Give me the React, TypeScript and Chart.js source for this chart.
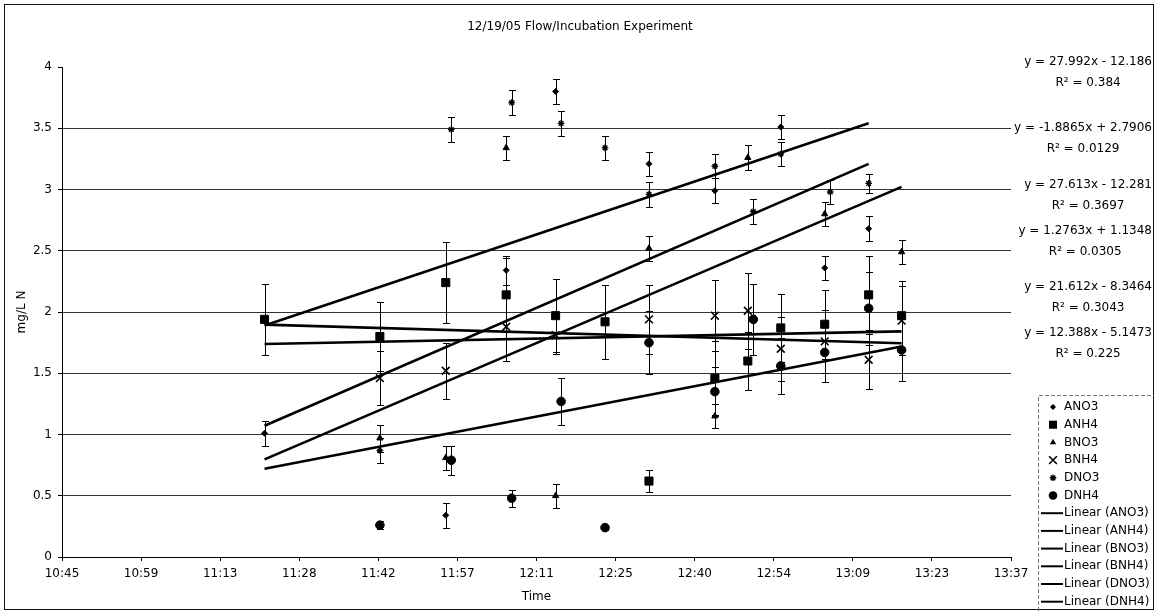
import React, { useEffect, useRef } from "react";
import { Chart, registerables } from "chart.js";

Chart.register(...registerables);

// ---------------- DATA ----------------
const titleText = "12/19/05 Flow/Incubation Experiment";
const xAxisTitle = "Time";
const yAxisTitle = "mg/L N";
const seriesNames = ["ANO3", "ANH4", "BNO3", "BNH4", "DNO3", "DNH4"];

const ano3Times = ["11:22", "11:43", "11:55", "12:06", "12:15", "12:32", "12:44", "12:56", "13:04", "13:12"];
const ano3Values = [1.01, 0.87, 0.34, 2.34, 3.8, 3.21, 2.99, 3.51, 2.36, 2.68];
const ano3Errors = [0.1, 0.1, 0.1, 0.12, 0.1, 0.1, 0.1, 0.1, 0.1, 0.1];

const anh4Times = ["11:22", "11:43", "11:55", "12:06", "12:15", "12:24", "12:32", "12:44", "12:50", "12:56", "13:04", "13:12", "13:18"];
const anh4Values = [1.94, 1.8, 2.24, 2.14, 1.97, 1.92, 0.62, 1.46, 1.6, 1.87, 1.9, 2.14, 1.97];
const anh4Errors = [0.29, 0.28, 0.33, 0.3, 0.3, 0.3, 0.09, 0.3, 0.24, 0.28, 0.28, 0.32, 0.28];

const bno3Times = ["11:43", "11:55", "12:06", "12:15", "12:32", "12:44", "12:50", "13:04", "13:18"];
const bno3Values = [0.97, 0.81, 3.34, 0.5, 2.52, 1.15, 3.26, 2.8, 2.49];
const bno3Errors = [0.11, 0.1, 0.1, 0.1, 0.1, 0.1, 0.1, 0.1, 0.1];

const bnh4Times = ["11:43", "11:55", "12:06", "12:15", "12:32", "12:44", "12:50", "12:56", "13:04", "13:12", "13:18"];
const bnh4Values = [1.46, 1.52, 1.88, 1.81, 1.94, 1.97, 2.01, 1.7, 1.76, 1.61, 1.93];
const bnh4Errors = [0.22, 0.23, 0.28, 0.15, 0.28, 0.29, 0.31, 0.26, 0.26, 0.24, 0.28];

const dno3Times = ["11:56", "12:07", "12:16", "12:24", "12:32", "12:44", "12:51", "12:56", "13:05", "13:12"];
const dno3Values = [3.49, 3.71, 3.54, 3.34, 2.96, 3.19, 2.82, 3.29, 2.98, 3.05];
const dno3Errors = [0.1, 0.1, 0.1, 0.1, 0.1, 0.1, 0.1, 0.1, 0.1, 0.08];

const dnh4Times = ["11:43", "11:56", "12:07", "12:16", "12:24", "12:32", "12:44", "12:51", "12:56", "13:04", "13:12", "13:18"];
const dnh4Values = [0.26, 0.79, 0.48, 1.27, 0.24, 1.75, 1.35, 1.94, 1.56, 1.67, 2.03, 1.69];
const dnh4Errors = [0.03, 0.12, 0.07, 0.19, 0.02, 0.26, 0.2, 0.29, 0.23, 0.24, 0.3, 0.25];

// Excel linear trendlines (x in days)
const trendSlopes = [27.992, -1.8865, 27.613, 1.2763, 21.612, 12.388];
const trendIntercepts = [-12.186, 2.7906, -12.281, 1.1348, -8.3464, -5.1473];
const trendR2 = ["0.384", "0.0129", "0.3697", "0.0305", "0.3043", "0.225"];
const trendStart = ["11:22", "11:22", "11:22", "11:22", "11:22", "11:22"];
const trendEnd = ["13:12", "13:18", "13:18", "13:18", "13:12", "13:18"];

const xTickValues = [0.448, 0.458, 0.468, 0.478, 0.488, 0.498, 0.508, 0.518, 0.528, 0.538, 0.548, 0.558, 0.568];
const yMin = 0;
const yMax = 4;
const yStep = 0.5;

// ---------------- STYLE ----------------
const FONT = "'DejaVu Sans', Verdana, sans-serif";
const pointStyles = ["rectRot", "rect", "triangle", "crossRot", "star", "circle"];
const pointRadii = [3, 5.7, 3.6, 5.5, 3.3, 4.3];
const pointBorders = [1, 1, 1, 1.6, 1.4, 1];
// equation label positions (right aligned at eqRight)
const eqRight = 1152;
const eqY = [62, 128, 185, 231, 287, 333];
const r2Offset = 21;

function toDay(t: string): number {
  const [h, m] = t.split(":").map(Number);
  return (h * 60 + m) / 1440;
}
function fmtTime(v: number): string {
  const mins = Math.floor(v * 1440 + 1e-6);
  const h = Math.floor(mins / 60);
  const m = mins % 60;
  return `${h}:${m < 10 ? "0" : ""}${m}`;
}
function fmtEq(m: number, b: number): string {
  return `y = ${m}x ${b < 0 ? "-" : "+"} ${Math.abs(b)}`;
}

const allTimes = [ano3Times, anh4Times, bno3Times, bnh4Times, dno3Times, dnh4Times];
const allValues = [ano3Values, anh4Values, bno3Values, bnh4Values, dno3Values, dnh4Values];
const allErrors = [ano3Errors, anh4Errors, bno3Errors, bnh4Errors, dno3Errors, dnh4Errors];

function drawMarker(ctx: CanvasRenderingContext2D, style: string, x: number, y: number, r: number, bw: number) {
  ctx.save();
  ctx.fillStyle = "#000";
  ctx.strokeStyle = "#000";
  ctx.lineWidth = bw;
  ctx.beginPath();
  if (style === "rectRot") {
    ctx.moveTo(x, y - r); ctx.lineTo(x + r, y); ctx.lineTo(x, y + r); ctx.lineTo(x - r, y); ctx.closePath();
    ctx.fill();
  } else if (style === "rect") {
    const s = r * Math.SQRT1_2;
    ctx.rect(x - s, y - s, 2 * s, 2 * s); ctx.fill();
  } else if (style === "triangle") {
    ctx.moveTo(x, y - r); ctx.lineTo(x + r * 0.87, y + r * 0.5); ctx.lineTo(x - r * 0.87, y + r * 0.5); ctx.closePath();
    ctx.fill();
  } else if (style === "crossRot") {
    const s = r * Math.SQRT1_2;
    ctx.moveTo(x - s, y - s); ctx.lineTo(x + s, y + s);
    ctx.moveTo(x + s, y - s); ctx.lineTo(x - s, y + s); ctx.stroke();
  } else if (style === "star") {
    const s = r * Math.SQRT1_2;
    ctx.moveTo(x - s, y - s); ctx.lineTo(x + s, y + s);
    ctx.moveTo(x + s, y - s); ctx.lineTo(x - s, y + s);
    ctx.moveTo(x, y - r); ctx.lineTo(x, y + r);
    ctx.moveTo(x - r, y); ctx.lineTo(x + r, y); ctx.stroke();
  } else {
    ctx.arc(x, y, r, 0, Math.PI * 2); ctx.fill();
  }
  ctx.restore();
}

const frameAndTextPlugin = {
  id: "frameAndText",
  beforeDraw(chart: any) {
    const { ctx, width, height } = chart;
    ctx.save();
    ctx.fillStyle = "#fff";
    ctx.fillRect(0, 0, width, height);
    ctx.restore();
  },
  afterDatasetsDraw(chart: any) {
    const { ctx } = chart;
    const xs = chart.scales.x;
    const ys = chart.scales.y;
    ctx.save();
    ctx.strokeStyle = "#000";
    ctx.lineWidth = 1;
    chart.data.datasets.forEach((ds: any) => {
      if (!ds.errorBars) return;
      ds.data.forEach((p: any, j: number) => {
        const e = ds.errorBars[j];
        const px = Math.round(xs.getPixelForValue(p.x)) + 0.5;
        const y1 = Math.round(ys.getPixelForValue(p.y + e)) + 0.5;
        const y2 = Math.round(ys.getPixelForValue(p.y - e)) + 0.5;
        ctx.beginPath();
        ctx.moveTo(px, y1); ctx.lineTo(px, y2);
        ctx.moveTo(px - 3.5, y1); ctx.lineTo(px + 3.5, y1);
        ctx.moveTo(px - 3.5, y2); ctx.lineTo(px + 3.5, y2);
        ctx.stroke();
      });
    });
    ctx.restore();
  },
  afterDraw(chart: any) {
    const { ctx } = chart;
    ctx.save();
    // outer frame
    ctx.strokeStyle = "#111";
    ctx.lineWidth = 1;
    ctx.strokeRect(4.5, 4.5, 1149, 605);

    // equations
    ctx.fillStyle = "#000";
    ctx.font = `12px ${FONT}`;
    ctx.textBaseline = "middle";
    seriesNames.forEach((_, i) => {
      const eq = fmtEq(trendSlopes[i], trendIntercepts[i]);
      ctx.textAlign = "right";
      ctx.fillText(eq, eqRight, eqY[i]);
      const w = ctx.measureText(eq).width;
      const cx = eqRight - w / 2;
      ctx.textAlign = "center";
      ctx.fillText(`R² = ${trendR2[i]}`, cx, eqY[i] + r2Offset);
    });

    // legend box
    const lx = 1038.5, ly = 395.5;
    ctx.strokeStyle = "#777";
    ctx.setLineDash([4, 2]);
    ctx.beginPath();
    ctx.moveTo(lx, 611); ctx.lineTo(lx, ly); ctx.lineTo(1154, ly);
    ctx.stroke();
    ctx.setLineDash([]);

    ctx.font = `12px ${FONT}`;
    ctx.textAlign = "left";
    ctx.textBaseline = "middle";
    ctx.fillStyle = "#000";
    const rowH = 17.7;
    const y0 = 407;
    seriesNames.forEach((name, i) => {
      const y = y0 + i * rowH;
      drawMarker(ctx, pointStyles[i], 1053, y, pointRadii[i], pointBorders[i]);
      ctx.fillText(name, 1064, y);
    });
    seriesNames.forEach((name, i) => {
      const y = y0 + (i + 6) * rowH;
      ctx.strokeStyle = "#000";
      ctx.lineWidth = 2;
      ctx.beginPath();
      ctx.moveTo(1041, y); ctx.lineTo(1063, y);
      ctx.stroke();
      ctx.fillText(`Linear (${name})`, 1064, y);
    });
    ctx.restore();
  },
};

export default function App() {
  const ref = useRef<HTMLCanvasElement | null>(null);

  useEffect(() => {
    if (!ref.current) return;
    Chart.defaults.font.family = FONT;
    Chart.defaults.color = "#000";

    const scatterSets = seriesNames.map((name, i) => ({
      type: "scatter" as const,
      label: name,
      data: allTimes[i].map((t, j) => ({ x: toDay(t), y: allValues[i][j] })),
      errorBars: allErrors[i],
      showLine: false,
      pointStyle: pointStyles[i],
      pointRadius: pointRadii[i],
      pointBorderWidth: pointBorders[i],
      backgroundColor: "#000",
      borderColor: "#000",
      order: 1,
    }));

    const trendSets = seriesNames.map((name, i) => {
      const x1 = toDay(trendStart[i]);
      const x2 = toDay(trendEnd[i]);
      return {
        type: "line" as const,
        label: `Linear (${name})`,
        data: [
          { x: x1, y: trendSlopes[i] * x1 + trendIntercepts[i] },
          { x: x2, y: trendSlopes[i] * x2 + trendIntercepts[i] },
        ],
        borderColor: "#000",
        borderWidth: 2.6,
        pointRadius: 0,
        fill: false,
        tension: 0,
        order: 2,
      };
    });

    const chart = new Chart(ref.current, {
      type: "scatter",
      data: { datasets: [...trendSets, ...scatterSets] as any },
      options: {
        animation: false,
        responsive: false,
        events: [],
        layout: { padding: { left: 0, right: 0, top: 0, bottom: 0 } },
        plugins: {
          legend: { display: false },
          tooltip: { enabled: false },
          title: {
            display: true,
            text: titleText,
            color: "#000",
            font: { family: FONT, size: 12, weight: "normal" },
            padding: { top: 20, bottom: 32.6 },
          },
        },
        scales: {
          x: {
            type: "linear",
            min: xTickValues[0],
            max: xTickValues[xTickValues.length - 1],
            afterBuildTicks: (s: any) => {
              s.ticks = xTickValues.map((v) => ({ value: v }));
            },
            afterFit: (s: any) => {
              s.height = 55;
            },
            grid: { drawOnChartArea: false, drawTicks: true, tickLength: 4, color: "#000" },
            border: { display: true, color: "#000", width: 1 },
            ticks: {
              callback: (v: any) => fmtTime(Number(v)),
              color: "#000",
              font: { family: FONT, size: 12 },
              padding: 6,
              maxRotation: 0,
              autoSkip: false,
            },
            title: {
              display: true,
              text: xAxisTitle,
              color: "#000",
              font: { family: FONT, size: 12 },
              padding: { top: 0, bottom: 8 },
            },
          },
          y: {
            type: "linear",
            position: "left",
            min: yMin,
            max: yMax,
            afterFit: (s: any) => {
              s.width = 62;
            },
            grid: {
              color: (c: any) => (c.tick && c.tick.value === yMax ? "rgba(0,0,0,0)" : "#333"),
              tickColor: "#000",
              tickLength: 4,
              lineWidth: 1,
            },
            border: { display: true, color: "#000", width: 1 },
            ticks: {
              stepSize: yStep,
              color: "#000",
              font: { family: FONT, size: 12 },
              padding: 6,
              callback: (v: any) => String(Math.round(Number(v) * 100) / 100),
            },
            title: {
              display: true,
              text: yAxisTitle,
              color: "#000",
              font: { family: FONT, size: 12 },
              padding: { top: 15, bottom: 0 },
            },
          },
          side: {
            type: "linear",
            position: "right",
            display: true,
            min: 0,
            max: 1,
            grid: { display: false, drawTicks: false },
            border: { display: false },
            ticks: { display: false },
            afterFit: (s: any) => {
              s.width = 149;
            },
          },
        },
      } as any,
      plugins: [frameAndTextPlugin],
    });

    return () => chart.destroy();
  }, []);

  return (
    <div style={{ position: "absolute", left: 0, top: 0, width: 1160, height: 612 }}>
      <canvas ref={ref} width={1160} height={612} style={{ display: "block" }} />
    </div>
  );
}
